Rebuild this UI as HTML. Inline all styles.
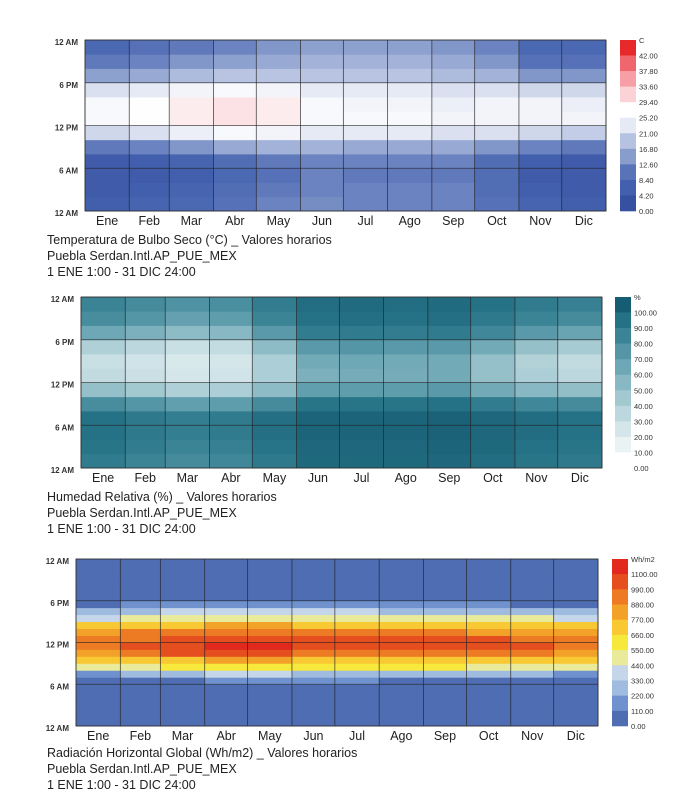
<!DOCTYPE html>
<html><head><meta charset="utf-8">
<style>
body{margin:0;background:#fff;width:692px;height:805px;overflow:hidden;font-family:"Liberation Sans",sans-serif}
svg{position:absolute;left:0;top:0}
</style></head>
<body>
<svg id="s" width="692" height="805"></svg>
<script>
const months=["Ene","Feb","Mar","Abr","May","Jun","Jul","Ago","Sep","Oct","Nov","Dic"];
const monthDays=[31,28,31,30,31,30,31,31,30,31,30,31];
const hourTicks=["12 AM","6 PM","12 PM","6 AM","12 AM"];
// Temperature (°C), 12 months x 12 two-hour bins (0-2h ... 22-24h)
const temp=[
[4,3,3,3,9,19,24,24,20,13,9,6],
[5,4,3,4,10,20,25,25,21,14,10,8],
[6,5,4,5,12,22,27,27,23,16,12,9],
[8,7,6,7,14,24,28,28,24,17,13,10],
[10,9,8,9,15,23,27,27,23,17,14,12],
[11,10,10,10,15,21,24,24,21,17,15,13],
[10,10,9,10,14,21,24,23,21,17,15,13],
[10,10,9,10,14,21,24,23,21,17,15,13],
[10,10,9,10,14,20,23,22,20,16,14,12],
[8,7,7,7,12,20,23,23,20,15,12,10],
[5,4,3,4,10,19,23,23,19,12,8,6],
[4,3,3,3,9,18,23,22,19,12,8,6]];
const tempLegend=["C","42.00","37.80","33.60","29.40","25.20","21.00","16.80","12.60","8.40","4.20","0.00"];
// Relative humidity (%), 12 months x 12 two-hour bins
const hum=[
[85,88,90,90,75,45,28,25,35,60,75,80],
[80,84,86,86,70,40,24,22,30,55,70,76],
[76,80,83,83,65,35,20,18,25,48,64,72],
[78,82,85,85,66,36,22,20,27,50,66,74],
[86,89,91,91,76,48,36,36,48,68,80,84],
[94,95,96,96,88,65,55,58,68,84,90,92],
[94,95,96,96,88,66,57,60,70,85,91,93],
[94,95,96,96,88,66,57,58,68,84,90,92],
[95,96,97,97,90,68,58,58,68,85,91,93],
[92,94,95,95,84,58,45,45,58,78,86,90],
[88,90,92,92,78,50,36,34,45,68,80,85],
[86,88,90,90,76,46,30,28,38,62,76,82]];
const humLegend=["%","100.00","90.00","80.00","70.00","60.00","50.00","40.00","30.00","20.00","10.00","0.00"];
// Global horizontal radiation (Wh/m2), 12 months x hours 6..18 (other hours 0)
const rad=[
[20,180,460,680,860,960,920,830,660,430,230,80,10],
[40,220,510,720,920,1010,970,880,710,480,280,110,20],
[80,290,570,760,990,1090,1040,930,760,520,330,150,40],
[110,330,600,790,1030,1120,1080,960,780,530,350,170,60],
[120,330,590,780,1020,1110,1070,950,770,530,350,180,70],
[110,300,550,720,960,1060,1000,880,710,500,330,170,70],
[110,300,550,720,970,1070,1010,880,710,490,330,170,70],
[100,290,550,730,980,1080,1020,890,710,490,320,160,60],
[90,280,550,730,980,1070,1010,880,700,470,300,140,40],
[70,260,540,710,950,1040,990,870,690,460,280,110,20],
[40,220,500,690,900,990,950,850,680,440,250,90,10],
[20,180,460,660,860,960,920,830,660,430,230,80,10]];
const radLegend=["Wh/m2","1100.00","990.00","880.00","770.00","660.00","550.00","440.00","330.00","220.00","110.00","0.00"];

const tempColors=["#3650a2","#4260ad","#5873b8","#899dcc","#b6c2e1","#e6eaf5","#ffffff","#fbd3d6","#f6a0a5","#ef666c","#e8292b"];
const humColors=["#ffffff","#eaf3f4","#d4e6ea","#bcd8de","#a2c8d0","#88b8c3","#6ea7b5","#5496a6","#3b8496","#257185","#165c72"];
const radColors=["#4e6db3","#6f92cf","#9fbbe0","#c5d6ea","#e9eb9a","#f7e83c","#f8c933","#f2a229","#ec7b23","#e54f1f","#e1291e"];

const S=document.getElementById('s');const NS="http://www.w3.org/2000/svg";
function el(t,a,p){const e=document.createElementNS(NS,t);for(const k in a)e.setAttribute(k,a[k]);(p||S).appendChild(e);return e;}
function lerp(c1,c2,t){const a=parseInt(c1.slice(1),16),b=parseInt(c2.slice(1),16);const r=Math.round(((a>>16)&255)*(1-t)+((b>>16)&255)*t),g=Math.round(((a>>8)&255)*(1-t)+((b>>8)&255)*t),bl=Math.round((a&255)*(1-t)+(b&255)*t);return "rgb("+r+","+g+","+bl+")";}
function contColor(v,step,cols){let f=v/step;if(f<0)f=0;if(f>cols.length-1)f=cols.length-1;const i=Math.min(Math.floor(f),cols.length-2);return lerp(cols[i],cols[i+1],f-i);}
function stepColor(v,step,cols){return cols[Math.max(0,Math.min(cols.length-1,Math.floor(v/step)))];}

function chart(o){
 const g=el('g',{});
 const {x0,x1,y0,y1}=o;const W=x1-x0,H=y1-y0;const total=365;
 const xs=d=>x0+d/total*W; const ys=h=>y1-h/24*H;
 let d=0;
 for(let m=0;m<12;m++){
  const xa=xs(d),xb=xs(d+monthDays[m]);
  const vals=o.data[m];
  const binH=24/vals.length;
  for(let b=0;b<vals.length;b++){
   const h0=b*binH;
   const r=el('rect',{x:xa,y:ys(h0+binH),width:xb-xa+0.4,height:H/24*binH+0.4,fill:o.color(vals[b])},g);
   
   
  }
  const t=el('text',{x:(xa+xb)/2,y:y1+14,'text-anchor':'middle','font-size':12.5,fill:'#222'},g);t.textContent=months[m];
  
  d+=monthDays[m];
 }
 d=0;
 for(let m=0;m<=12;m++){const x=xs(d);el('line',{x1:x,x2:x,y1:y0,y2:y1,stroke:'#222','stroke-width':0.8,'stroke-opacity':0.8},g);if(m<12)d+=monthDays[m];}
 for(let i=0;i<5;i++){const y=y0+i*H/4;el('line',{x1:x0,x2:x1,y1:y,y2:y,stroke:'#222','stroke-width':0.8,'stroke-opacity':0.8},g);
  const t=el('text',{x:o.ylx,y:y+5,'text-anchor':'end','font-size':8,'font-weight':'bold',fill:'#333'},g);t.textContent=hourTicks[i];
  }
 el('rect',{x:x0,y:y0,width:W,height:H,fill:'none',stroke:'#333','stroke-width':0.8},g);
 const lg=el('g',{},g);
 const n=o.cols.length;const sh=(y1-y0)/n;
 for(let i=0;i<n;i++){el('rect',{x:o.lx,y:y0+i*sh,width:16,height:sh+0.3,fill:o.cols[n-1-i]},lg);}
 o.legend.forEach((s,i)=>{const t=el('text',{x:o.lx+19,y:y0+i*sh+3,'font-size':7.5,fill:'#333'},lg);t.textContent=s;});
 o.title.forEach((s,i)=>{const t=el('text',{x:47,y:o.ty+i*16,'font-size':12.5,fill:'#222'},g);t.textContent=s;
  });
}
const sub=["Puebla Serdan.Intl.AP_PUE_MEX","1 ENE 1:00 - 31 DIC 24:00"];
chart({name:'temperature-heatmap',x0:85,x1:606,y0:40,y1:211,ylx:78,lx:620,data:temp,cols:tempColors,legend:tempLegend,
 color:v=>contColor(v,4.2,tempColors),ty:244,title:["Temperatura de Bulbo Seco (°C) _ Valores horarios"].concat(sub)});
chart({name:'humidity-heatmap',x0:81,x1:602,y0:297,y1:468,ylx:74,lx:615,data:hum,cols:humColors,legend:humLegend,
 color:v=>contColor(v,10,humColors),ty:501,title:["Humedad Relativa (%) _ Valores horarios"].concat(sub)});
const radFull=rad.map(r=>{const a=new Array(24).fill(0);r.forEach((v,i)=>a[6+i]=v);return a;});
chart({name:'radiation-heatmap',x0:76,x1:598,y0:559,y1:726,ylx:69,lx:612,data:radFull,cols:radColors,legend:radLegend,
 color:v=>stepColor(v,110,radColors),ty:757,title:["Radiación Horizontal Global (Wh/m2) _ Valores horarios"].concat(sub)});
</script>
</body></html>
